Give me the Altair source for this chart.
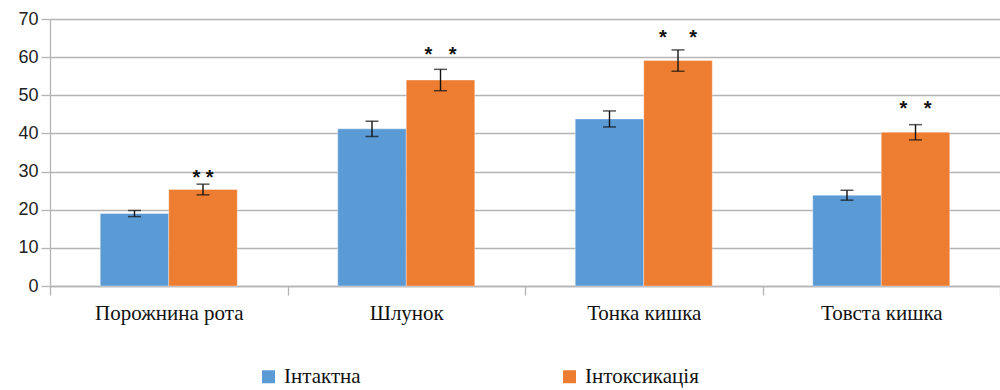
import altair as alt
import pandas as pd

# Organ sections along the x axis
organs = ["Порожнина рота", "Шлунок", "Тонка кишка", "Товста кишка"]
groups = ["Інтактна", "Інтоксикація"]

# Mean values and their error half-widths for each group
intact = [19.0, 41.2, 43.8, 23.8]
intact_err = [0.8, 2.0, 2.1, 1.3]
intox = [25.3, 54.0, 59.1, 40.3]
intox_err = [1.4, 2.8, 2.8, 2.0]

# Significance markers above the intoxication bars (non-breaking spaces keep the gaps)
stars = ["*\u00a0*", "*\u00a0\u00a0\u00a0*", "*\u00a0\u00a0\u00a0\u00a0*", "*\u00a0\u00a0\u00a0*"]
star_y = [29.4, 61.7, 66.0, 47.5]

colors = ["#5B9BD5", "#ED7D31"]

rows = []
for i, organ in enumerate(organs):
    rows.append(dict(organ=organ, group=groups[0], value=intact[i],
                     lo=intact[i] - intact_err[i], hi=intact[i] + intact_err[i],
                     star="", star_y=None))
    rows.append(dict(organ=organ, group=groups[1], value=intox[i],
                     lo=intox[i] - intox_err[i], hi=intox[i] + intox_err[i],
                     star=stars[i], star_y=star_y[i]))
df = pd.DataFrame(rows)

grid = "#b4b4b4"
serif = "Liberation Serif"

x = alt.X(
    "organ:N", sort=organs, title=None,
    scale=alt.Scale(paddingInner=0, paddingOuter=0),
    axis=alt.Axis(labelAngle=0, tickBand="extent", labelFont=serif,
                  labelFontSize=21, labelColor="#111", labelPadding=7,
                  domainColor=grid, tickColor=grid, tickSize=9, domainWidth=1.3,
                  tickWidth=1.3),
)
xo = alt.XOffset("group:N", sort=groups,
                 scale=alt.Scale(paddingInner=0, paddingOuter=0.733))
y_scale = alt.Scale(domain=[0, 70])
y_axis = alt.Axis(values=list(range(0, 71, 10)), grid=True, gridColor=grid,
                  gridWidth=1.3, domainColor=grid, domainWidth=1.3,
                  tickColor=grid, tickSize=9, tickWidth=1.3,
                  labelOverlap=False, title=None,
                  labelFont="Liberation Sans", labelFontSize=18,
                  labelColor="#222", labelPadding=3)


def yenc(field):
    return alt.Y(field, scale=y_scale, axis=y_axis, title=None)


bars = alt.Chart(df).mark_bar(stroke="white", strokeWidth=0.6, strokeOpacity=0.6).encode(
    x=x, xOffset=xo,
    y=yenc("value:Q"),
    color=alt.Color("group:N", sort=groups,
                    scale=alt.Scale(domain=groups, range=colors),
                    legend=alt.Legend(title=None, orient="none", direction="horizontal",
                                      legendX=208, legendY=347, padding=0,
                                      symbolType="square", symbolSize=169,
                                      symbolStrokeWidth=0, labelFont=serif,
                                      labelFontSize=21, labelColor="#111",
                                      columnPadding=198, labelOffset=5)),
)

base = alt.Chart(df)
err_line = base.mark_rule(color="#111", strokeWidth=1.4).encode(
    x=x, xOffset=xo, y=yenc("lo:Q"), y2="hi:Q")
cap_lo = base.mark_tick(color="#111", size=13, thickness=1.5).encode(
    x=x, xOffset=xo, y=yenc("lo:Q"))
cap_hi = base.mark_tick(color="#111", size=13, thickness=1.5).encode(
    x=x, xOffset=xo, y=yenc("hi:Q"))

star_text = base.transform_filter("datum.star != ''").mark_text(
    font="Liberation Sans", fontSize=20, fontWeight="bold", color="#111",
    baseline="middle", dy=4,
).encode(x=x, xOffset=xo, y=yenc("star_y:Q"), text="star:N")

chart = (
    alt.layer(bars, err_line, cap_lo, cap_hi, star_text)
    .properties(
        width=950, height=267,
        autosize=alt.AutoSizeParams(type="none"),
        padding={"left": 50, "top": 19, "right": 0, "bottom": 104},
        background="white",
    )
    .configure_view(stroke=None)
    .configure_legend(labelFont=serif, labelFontSize=21, labelColor="#111")
)

chart.save("out.html", embed_options={"renderer": "svg", "actions": False})
